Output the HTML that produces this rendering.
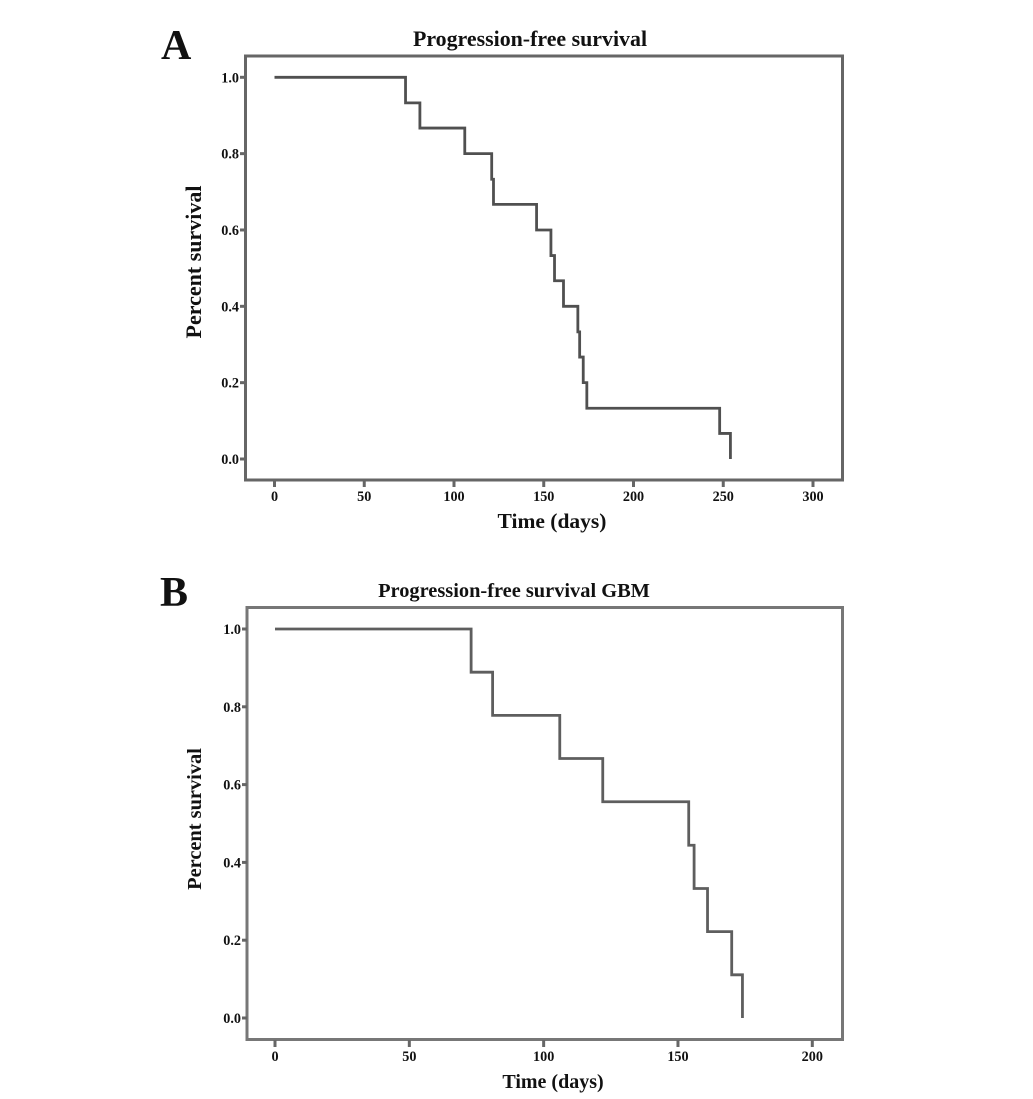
<!DOCTYPE html>
<html lang="en">
<head>
<meta charset="utf-8">
<title>Progression-free survival charts</title>
<style>
html,body{margin:0;padding:0;background:#fff;width:1033px;height:1099px;overflow:hidden}
svg{display:block;position:absolute;left:0;top:0}
text{font-family:"Liberation Serif",serif;font-weight:bold;fill:#111}
.frame{fill:none;stroke:#666;stroke-width:3}
.tick{stroke:#666;stroke-width:3;fill:none}
.tl{font-size:14.2px}
.ttl{font-size:20px;text-anchor:middle}
.panel{font-size:42px}
</style>
</head>
<body>
<svg id="chart" width="1033" height="1099" viewBox="0 0 1033 1099" xmlns="http://www.w3.org/2000/svg">
  <text class="panel" x="161" y="59">A</text>
  <text class="panel" x="160" y="606">B</text>
  <text class="ttl" x="530" y="46" style="font-size:21.9px">Progression-free survival</text>
  <text class="ttl" x="514" y="597" style="font-size:20.4px">Progression-free survival GBM</text>
  <text class="ttl" x="552" y="528" style="font-size:21.5px">Time (days)</text>
  <text class="ttl" x="553" y="1088">Time (days)</text>
  <text class="ttl" transform="translate(201,262) rotate(-90)" style="font-size:22px">Percent survival</text>
  <text class="ttl" transform="translate(201,819) rotate(-90)" style="font-size:20.4px">Percent survival</text>
  <rect class="frame" x="245.5" y="56" width="597" height="424"/>
  <rect class="frame" x="247" y="607.5" width="595.5" height="432" style="stroke:#777"/>
  <g id="chart-a"></g>
  <g id="chart-b"></g>
</svg>
<script>
const yTickValues = [0, 0.2, 0.4, 0.6, 0.8, 1.0];
const xTicksA = [0, 50, 100, 150, 200, 250, 300];
const xTicksB = [0, 50, 100, 150, 200];
const timesA = [0, 73, 81, 106, 121, 122, 146, 154, 156, 161, 169, 170, 172, 174, 248, 254];
const survivalA = [1.0, 0.933, 0.867, 0.8, 0.733, 0.667, 0.6, 0.533, 0.467, 0.4, 0.333, 0.267, 0.2, 0.133, 0.067, 0.0];
const timesB = [0, 73, 81, 106, 122, 154, 156, 161, 170, 174];
const survivalB = [1.0, 0.889, 0.778, 0.667, 0.556, 0.444, 0.333, 0.222, 0.111, 0.0];

const NS = 'http://www.w3.org/2000/svg';

function make(tag, attrs, parent) {
  const el = document.createElementNS(NS, tag);
  for (const k in attrs) el.setAttribute(k, attrs[k]);
  parent.appendChild(el);
  return el;
}

function drawChart(group, cfg, xTicks, yTicks, times, values) {
  const xScale = v => cfg.x0 + (v - xTicks[0]) * (cfg.x1 - cfg.x0) / (xTicks[xTicks.length - 1] - xTicks[0]);
  const yScale = v => cfg.y0 + (v - yTicks[0]) * (cfg.y1 - cfg.y0) / (yTicks[yTicks.length - 1] - yTicks[0]);

  xTicks.forEach(t => {
    const x = xScale(t);
    const tick = make('line', {class: 'tick', x1: x, x2: x, y1: cfg.bottom, y2: cfg.bottom + 7}, group);
    
    
    const label = make('text', {class: 'tl', x: x, y: cfg.bottom + 21, 'text-anchor': 'middle'}, group);
    label.textContent = String(t);
    
    
  });

  yTicks.forEach(t => {
    const y = yScale(t);
    const tick = make('line', {class: 'tick', x1: cfg.left - 5, x2: cfg.left, y1: y, y2: y}, group);
    
    
    const label = make('text', {class: 'tl', x: cfg.left - 6, y: y + 5, 'text-anchor': 'end'}, group);
    label.textContent = t.toFixed(1);
    
    
  });

  let d = 'M' + xScale(times[0]) + ' ' + yScale(values[0]);
  for (let i = 1; i < times.length; i++) {
    d += ' H' + xScale(times[i]) + ' V' + yScale(values[i]);
  }
  const curve = make('path', {d: d, fill: 'none', stroke: cfg.color, 'stroke-width': 2.8}, group);
  
  
}

drawChart(document.getElementById('chart-a'),
  {x0: 274.5, x1: 813, y0: 459, y1: 77.3, left: 245, bottom: 480, color: '#505050'},
  xTicksA, yTickValues, timesA, survivalA);
drawChart(document.getElementById('chart-b'),
  {x0: 275, x1: 812.3, y0: 1018, y1: 629, left: 247, bottom: 1040, color: '#5e5e5e'},
  xTicksB, yTickValues, timesB, survivalB);
</script>
</body>
</html>
